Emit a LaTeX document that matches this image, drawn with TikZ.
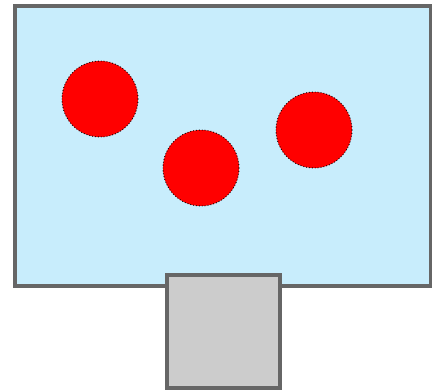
\documentclass[tikz,border=0pt]{standalone}
\begin{document}
\begin{tikzpicture}[x=1pt,y=-1pt,
  box/.style={draw=boxline,line width=3.5pt},
  ball/.style={circle,draw=black,fill=red,dotted,line width=0.9pt,minimum size=76pt,inner sep=0pt}]
\definecolor{boxline}{HTML}{666666}
\definecolor{sky}{HTML}{C8EDFC}
\definecolor{stone}{HTML}{CCCCCC}
\useasboundingbox (0,0) rectangle (441,390);
\draw[box,fill=sky] (15,6) rectangle (430.5,286);
\node[ball] (b1) at (100,99) {};
\node[ball] (b2) at (201,168) {};
\node[ball] (b3) at (314,130) {};
\draw[box,line width=4pt,fill=stone] (166.5,275) rectangle (280,388);
\end{tikzpicture}
\end{document}
